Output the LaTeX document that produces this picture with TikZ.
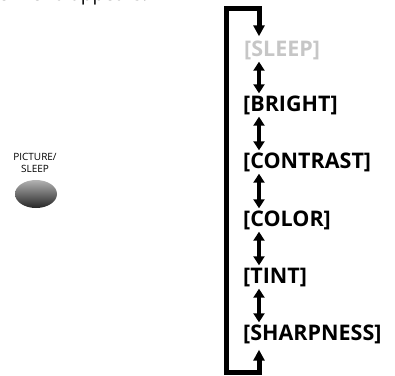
\documentclass[tikz,border=0pt]{standalone}
\usepackage{fontspec}
\setmainfont{Open Sans}
\usetikzlibrary{arrows.meta}
\tikzset{
  item/.style={anchor=west, inner xsep=0pt, inner ysep=1pt, font=\bfseries\fontsize{21.5}{21.5}\selectfont, text height=16.5pt, text depth=4.5pt},
  dbl/.style={line width=4pt, {Triangle[width=11pt,length=9pt]}-{Triangle[width=11pt,length=9pt]}},
  loopline/.style={line width=5pt, miter limit=10, {Triangle[width=11pt,length=11pt]}-{Triangle[width=11pt,length=11pt]}},
  btnlabel/.style={align=center, inner sep=0pt, font=\fontsize{10}{11.5}\selectfont},
}
\begin{document}
\begin{tikzpicture}[x=1pt,y=1pt]
\useasboundingbox (0,0) rectangle (395,-375);
\node[anchor=base west, inner sep=0pt, font=\fontsize{19}{19}\selectfont] (top) at (-2,0) {e menu appears.};
\node[item, text=gray!45] (sleep) at (244,-50) {[SLEEP]};
\node[item] (bright) at (243,-105) {[BRIGHT]};
\node[item] (contrast) at (243,-162) {[CONTRAST]};
\node[item] (color) at (243,-220) {[COLOR]};
\node[item] (tint) at (243,-277) {[TINT]};
\node[item] (sharp) at (243,-334) {[SHARPNESS]};
\coordinate (ax) at (259,0);
\coordinate (bl) at (226,-372);
\coordinate (tl) at (226,-8);
\draw[dbl] (sleep.south -| ax) -- (bright.north -| ax);
\draw[dbl] (bright.south -| ax) -- (contrast.north -| ax);
\draw[dbl] (contrast.south -| ax) -- (color.north -| ax);
\draw[dbl] (color.south -| ax) -- (tint.north -| ax);
\draw[dbl] (tint.south -| ax) -- (sharp.north -| ax);
\draw[loopline] ([yshift=-4pt]sharp.south -| ax) -- (bl -| ax) -- (bl) -- (tl) -- (tl -| ax) -- ([yshift=2pt]sleep.north -| ax);
\node[btnlabel] (lbl) at (35,-163) {PICTURE/\\SLEEP};
\shade[top color=gray!60, bottom color=black!85] (36,-194) ellipse [x radius=21, y radius=14];
\node[inner sep=0pt, minimum width=42pt, minimum height=28pt] (btn) at (36,-194) {};
\end{tikzpicture}
\end{document}
